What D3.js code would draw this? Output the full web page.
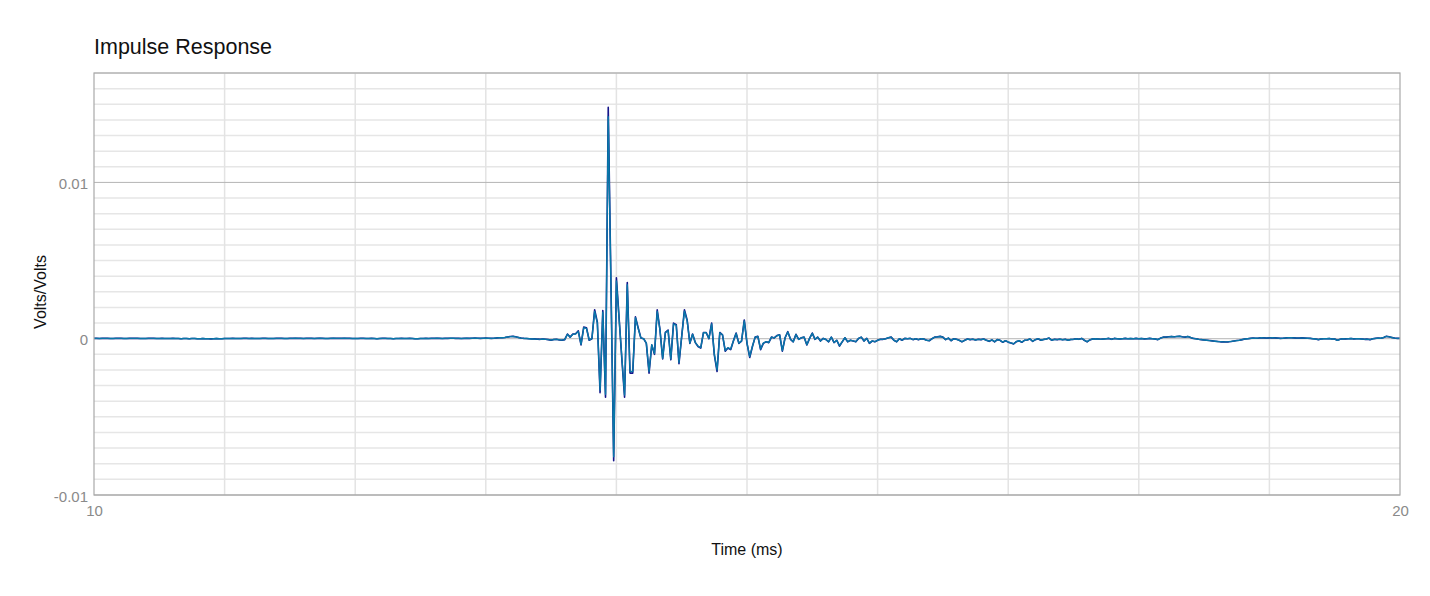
<!DOCTYPE html>
<html>
<head>
<meta charset="utf-8">
<script src="https://cdn.jsdelivr.net/npm/d3@7/dist/d3.min.js"></script>
<style>
  html, body { margin: 0; padding: 0; background: #fff; }
  svg { display: block; font-family: "Liberation Sans", Arial, Helvetica, sans-serif; }
</style>
</head>
<body>
<svg id="chart" width="1430" height="596"></svg>
<script>
// ---- Data (values in units of 1e-3 Volts/Volts, one sample every 1/48 ms from 10 ms) ----
const startMs = 10;
const sampleStepMs = 1 / 48;
const unit = 1e-3;

const seriesNavy = [
0.02,0.02,0.01,0.02,0.02,0.02,0.01,0.01,0.02,0.02,
0.02,0.01,0.01,0.02,0.02,0.02,0.02,0.01,0.01,0.01,
0.02,0.02,0.02,0.01,0.01,0.02,0.01,0.01,0.01,0.02,
0.01,0.01,0.00,0.01,0.01,0.00,0.01,0.01,0.00,0.00,
0.01,0.00,0.00,-0.01,0.00,0.01,0.00,0.00,0.01,0.01,
0.01,0.02,0.01,0.01,0.01,0.02,0.02,0.01,0.02,0.01,
0.01,0.01,0.02,0.02,0.01,0.01,0.01,0.02,0.02,0.02,
0.01,0.01,0.02,0.02,0.03,0.02,0.02,0.01,0.02,0.02,
0.02,0.01,0.02,0.03,0.02,0.01,0.01,0.02,0.03,0.02,
0.02,0.02,0.03,0.02,0.02,0.01,0.01,0.01,0.02,0.02,
0.01,0.01,0.02,0.01,0.00,0.01,0.02,0.02,0.01,0.01,
0.00,0.01,0.01,0.02,0.01,0.01,0.02,0.01,0.00,0.00,
0.01,0.01,0.02,0.01,0.02,0.02,0.03,0.02,0.01,0.02,
0.02,0.03,0.03,0.02,0.02,0.01,0.02,0.03,0.02,0.03,
0.04,0.03,0.02,0.03,0.04,0.03,0.02,0.03,0.05,0.06,
0.06,0.08,0.11,0.14,0.15,0.12,0.08,0.04,0.02,0.01,
0.00,-0.02,-0.01,-0.03,-0.04,-0.02,-0.04,-0.06,-0.10,-0.05,
-0.04,-0.08,-0.10,-0.06,0.30,0.10,0.30,0.32,0.50,-0.40,
0.75,0.70,-0.10,0.00,1.85,1.05,-3.45,1.80,-3.75,14.80,
3.50,-7.80,3.90,1.30,-1.30,-3.75,3.60,-2.20,-2.20,1.40,
0.70,0.05,0.00,-0.30,-2.20,-0.40,-1.00,1.85,0.60,-1.30,
0.40,0.55,-1.35,1.00,0.90,-1.60,0.15,1.85,1.20,-0.30,
0.30,-0.25,-0.50,-0.60,0.40,0.40,0.00,1.00,-1.05,-2.10,
0.40,0.25,-0.80,-0.60,-0.70,-0.15,0.36,-0.30,-0.15,1.20,
-0.30,-1.20,-0.50,0.10,0.15,-0.70,-0.30,-0.20,-0.25,0.10,
0.05,0.20,0.25,-0.80,0.06,0.45,-0.04,-0.20,0.28,-0.04,
0.06,0.10,-0.40,0.02,0.36,-0.04,0.10,-0.15,0.02,-0.05,
-0.20,0.10,-0.25,-0.10,-0.47,-0.20,0.06,-0.20,-0.10,-0.15,
-0.20,0.02,0.10,-0.15,0.02,-0.30,-0.15,-0.20,-0.10,-0.04,
-0.04,0.00,0.06,0.10,-0.10,-0.20,0.00,-0.10,0.02,0.00,
0.02,-0.06,0.00,-0.06,0.00,-0.02,-0.10,-0.13,0.00,0.10,
0.12,0.15,0.10,-0.06,0.04,-0.13,0.00,-0.04,-0.10,-0.20,
-0.10,-0.02,-0.06,-0.03,-0.08,-0.04,-0.06,-0.02,-0.10,-0.17,
-0.08,-0.20,-0.06,-0.10,-0.23,-0.13,-0.22,-0.28,-0.34,-0.19,
-0.13,-0.23,-0.10,-0.08,-0.02,-0.17,-0.06,0.00,-0.10,-0.05,
-0.02,0.04,-0.10,-0.04,-0.06,-0.03,-0.07,-0.04,-0.10,-0.05,
-0.04,0.00,-0.04,0.02,-0.10,-0.20,-0.08,-0.02,0.00,-0.02,
-0.04,-0.02,0.00,0.02,-0.04,0.02,0.00,-0.02,0.00,0.02,
0.00,0.01,0.00,0.02,0.00,0.01,-0.01,0.00,0.02,0.00,
-0.02,-0.06,0.04,0.10,0.10,0.12,0.14,0.12,0.14,0.16,
0.12,0.10,0.14,0.08,0.02,0.00,-0.04,-0.06,-0.08,-0.10,
-0.12,-0.14,-0.16,-0.18,-0.20,-0.20,-0.21,-0.20,-0.18,-0.15,
-0.12,-0.10,-0.06,-0.02,0.00,0.02,0.04,0.03,0.04,0.06,
0.05,0.04,0.05,0.06,0.05,0.04,0.02,0.03,0.05,0.06,
0.06,0.05,0.04,0.04,0.05,0.04,0.03,0.02,0.00,-0.02,
-0.06,-0.02,0.00,0.00,0.01,-0.02,-0.02,-0.10,-0.04,0.00,
-0.01,0.00,0.01,-0.01,0.00,0.00,-0.02,-0.04,-0.03,-0.06,
0.00,0.02,0.04,0.03,0.08,0.15,0.12,0.08,0.04,0.02,
0.02
];

const seriesTeal = [
0.02,0.02,0.01,0.02,0.02,0.02,0.01,0.01,0.02,0.02,
0.02,0.01,0.01,0.02,0.02,0.02,0.02,0.01,0.01,0.01,
0.02,0.02,0.02,0.01,0.01,0.02,0.01,0.01,0.01,0.02,
0.01,0.01,0.00,0.01,0.01,0.00,0.01,0.01,0.00,0.00,
0.01,0.00,0.00,-0.01,0.00,0.01,0.00,0.00,0.01,0.01,
0.01,0.02,0.01,0.01,0.01,0.02,0.02,0.01,0.02,0.01,
0.01,0.01,0.02,0.02,0.01,0.01,0.01,0.02,0.02,0.02,
0.01,0.01,0.02,0.02,0.03,0.02,0.02,0.01,0.02,0.02,
0.02,0.01,0.02,0.03,0.02,0.01,0.01,0.02,0.03,0.02,
0.02,0.02,0.03,0.02,0.02,0.01,0.01,0.01,0.02,0.02,
0.01,0.01,0.02,0.01,0.00,0.01,0.02,0.02,0.01,0.01,
0.00,0.01,0.01,0.02,0.01,0.01,0.02,0.01,0.00,0.00,
0.01,0.01,0.02,0.01,0.02,0.02,0.03,0.02,0.01,0.02,
0.02,0.03,0.03,0.02,0.02,0.01,0.02,0.03,0.02,0.03,
0.04,0.03,0.02,0.03,0.04,0.03,0.02,0.03,0.05,0.06,
0.06,0.08,0.11,0.13,0.14,0.12,0.08,0.04,0.02,0.01,
0.00,-0.02,-0.01,-0.03,-0.04,-0.02,-0.04,-0.06,-0.09,-0.05,
-0.04,-0.07,-0.09,-0.06,0.28,0.10,0.28,0.30,0.46,-0.36,
0.70,0.66,-0.08,0.00,1.75,1.00,-3.30,1.70,-3.55,14.20,
3.40,-7.55,3.70,1.25,-1.20,-3.60,3.45,-2.10,-2.10,1.35,
0.65,0.05,0.00,-0.28,-2.10,-0.38,-0.95,1.75,0.58,-1.25,
0.38,0.52,-1.30,0.95,0.86,-1.52,0.14,1.76,1.14,-0.28,
0.28,-0.24,-0.48,-0.57,0.38,0.38,0.00,0.95,-1.00,-2.00,
0.38,0.24,-0.76,-0.57,-0.66,-0.14,0.34,-0.28,-0.14,1.14,
-0.28,-1.14,-0.48,0.10,0.14,-0.66,-0.28,-0.19,-0.24,0.10,
0.05,0.19,0.24,-0.76,0.06,0.43,-0.04,-0.19,0.27,-0.04,
0.06,0.10,-0.38,0.02,0.34,-0.04,0.10,-0.14,0.02,-0.05,
-0.19,0.10,-0.24,-0.10,-0.45,-0.19,0.06,-0.19,-0.10,-0.14,
-0.19,0.02,0.10,-0.14,0.02,-0.28,-0.14,-0.19,-0.10,-0.04,
-0.04,0.00,0.06,0.10,-0.10,-0.19,0.00,-0.10,0.02,0.00,
0.02,-0.06,0.00,-0.06,0.00,-0.02,-0.10,-0.12,0.00,0.10,
0.11,0.14,0.10,-0.06,0.04,-0.12,0.00,-0.04,-0.10,-0.19,
-0.10,-0.02,-0.06,-0.03,-0.08,-0.04,-0.06,-0.02,-0.10,-0.16,
-0.08,-0.19,-0.06,-0.10,-0.22,-0.13,-0.21,-0.27,-0.32,-0.18,
-0.13,-0.22,-0.10,-0.08,-0.02,-0.16,-0.06,0.00,-0.10,-0.05,
-0.02,0.04,-0.10,-0.04,-0.06,-0.03,-0.07,-0.04,-0.10,-0.05,
-0.04,0.00,-0.04,0.02,-0.10,-0.19,-0.08,-0.02,0.00,-0.02,
-0.04,-0.02,0.00,0.02,-0.04,0.02,0.00,-0.02,0.00,0.02,
0.00,0.01,0.00,0.02,0.00,0.01,-0.01,0.00,0.02,0.00,
-0.02,-0.06,0.04,0.10,0.10,0.12,0.14,0.12,0.14,0.16,
0.12,0.10,0.14,0.08,0.02,0.00,-0.04,-0.06,-0.08,-0.10,
-0.12,-0.14,-0.16,-0.18,-0.19,-0.20,-0.20,-0.19,-0.17,-0.15,
-0.12,-0.10,-0.06,-0.02,0.00,0.02,0.04,0.03,0.04,0.06,
0.05,0.04,0.05,0.06,0.05,0.04,0.02,0.03,0.05,0.06,
0.06,0.05,0.04,0.04,0.05,0.04,0.03,0.02,0.00,-0.02,
-0.06,-0.02,0.00,0.00,0.01,-0.02,-0.02,-0.10,-0.04,0.00,
-0.01,0.00,0.01,-0.01,0.00,0.00,-0.02,-0.04,-0.03,-0.06,
0.00,0.02,0.04,0.03,0.08,0.15,0.12,0.08,0.04,0.02,
0.02
];

const xTickValues = [10, 20];
const xTickLabels = ["10", "20"];
const yTickValues = [-0.01, 0, 0.01];
const yTickLabels = ["-0.01", "0", "0.01"];
const xGridValues = [11, 12, 13, 14, 15, 16, 17, 18, 19];
const yMinorGrid = d3.range(-10, 18).map(k => k / 1000);

const title = "Impulse Response";
const xTitle = "Time (ms)";
const yTitle = "Volts/Volts";

// ---- Layout ----
const W = 1430, H = 596;
const M = { left: 94, right: 30, top: 73, bottom: 101 };
const pw = W - M.left - M.right;
const ph = H - M.top - M.bottom;

const svg = d3.select("#chart");
const x = d3.scaleLinear().domain([10, 20]).range([M.left, M.left + pw]);
const y = d3.scaleLinear().domain([-0.01, 0.017]).range([M.top + ph, M.top]);

const toPoints = arr => arr.map((v, i) => ({ t: startMs + i * sampleStepMs, v: v * unit }));

// Minor horizontal grid
svg.append("g").selectAll("line").data(yMinorGrid.filter(v => Math.abs(v * 100 - Math.round(v * 100)) > 1e-9))
  .join("line")
  .attr("x1", M.left).attr("x2", M.left + pw)
  .attr("y1", d => y(d)).attr("y2", d => y(d))
  .attr("stroke", "#e6e6e6").attr("stroke-width", 1.5);

// Vertical grid
svg.append("g").selectAll("line").data(xGridValues)
  .join("line")
  .attr("x1", d => x(d)).attr("x2", d => x(d))
  .attr("y1", M.top).attr("y2", M.top + ph)
  .attr("stroke", "#e3e3e3").attr("stroke-width", 1.5);

// Major horizontal grid
svg.append("g").selectAll("line").data(yTickValues)
  .join("line")
  .attr("x1", M.left).attr("x2", M.left + pw)
  .attr("y1", d => y(d)).attr("y2", d => y(d))
  .attr("stroke", "#b5b5b5").attr("stroke-width", 1);

// Lines
const line = d3.line().x(d => x(d.t)).y(d => y(d.v));
svg.append("clipPath").attr("id", "clip").append("rect")
  .attr("x", M.left).attr("y", M.top).attr("width", pw).attr("height", ph);

svg.append("path").datum(toPoints(seriesNavy))
  .attr("clip-path", "url(#clip)")
  .attr("d", line).attr("fill", "none")
  .attr("stroke", "#15158a").attr("stroke-width", 1.6).attr("stroke-linejoin", "round");

svg.append("path").datum(toPoints(seriesTeal))
  .attr("clip-path", "url(#clip)")
  .attr("d", line).attr("fill", "none")
  .attr("stroke", "#0878a8").attr("stroke-width", 1.4).attr("stroke-linejoin", "round");

// Border
svg.append("rect")
  .attr("x", M.left).attr("y", M.top).attr("width", pw).attr("height", ph)
  .attr("fill", "none").attr("stroke", "#a9a9a9").attr("stroke-width", 1.2);

// Axes (labels only)
const yAxis = d3.axisLeft(y).tickValues(yTickValues)
  .tickFormat((d, i) => yTickLabels[i]).tickSize(0).tickPadding(6);
const gy = svg.append("g").attr("transform", `translate(${M.left},0)`).call(yAxis);
gy.select(".domain").remove();
gy.selectAll("text").attr("fill", "#8a8a8a").style("font-size", "15px").attr("dy", "0.4em");

const xAxis = d3.axisBottom(x).tickValues(xTickValues)
  .tickFormat((d, i) => xTickLabels[i]).tickSize(0).tickPadding(10);
const gx = svg.append("g").attr("transform", `translate(0,${M.top + ph})`).call(xAxis);
gx.select(".domain").remove();
gx.selectAll("text").attr("fill", "#8a8a8a").style("font-size", "15px");

// Titles
svg.append("text").attr("x", M.left).attr("y", 54)
  .attr("fill", "#111").style("font-size", "21.5px").text(title);

svg.append("text").attr("x", M.left + pw / 2).attr("y", 555)
  .attr("text-anchor", "middle").attr("fill", "#111").style("font-size", "16px").text(xTitle);

svg.append("text")
  .attr("transform", `translate(46,${M.top + ph / 2 + 8}) rotate(-90)`)
  .attr("text-anchor", "middle").attr("fill", "#111").style("font-size", "16px").text(yTitle);
</script>
</body>
</html>
